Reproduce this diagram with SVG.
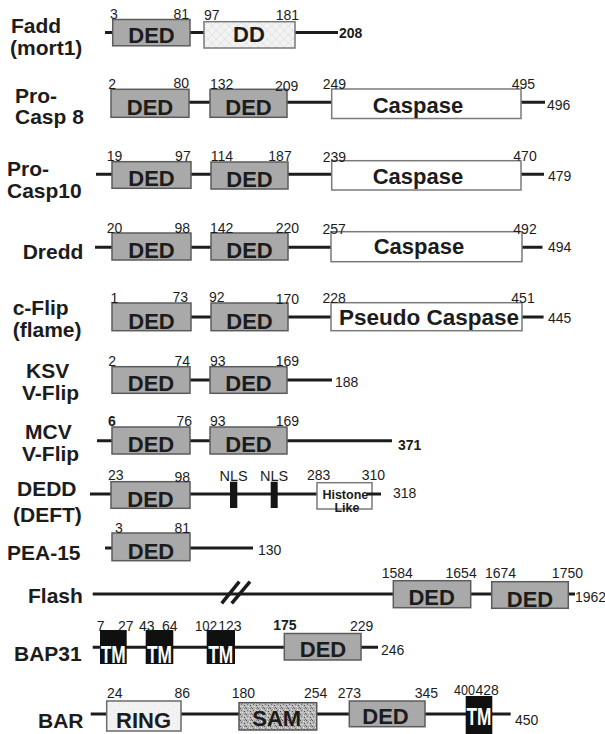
<svg xmlns="http://www.w3.org/2000/svg" width="605" height="734" viewBox="0 0 605 734">
<style>
.bb{stroke:#1c1c1c;stroke-width:3;fill:none}
.sl{stroke:#1c1c1c;stroke-width:3.5;fill:none;stroke-linecap:butt}
.ded{fill:#a9a9a9;stroke:#5c5c5c;stroke-width:1.5}
.cas{fill:#ffffff;stroke:#7a7a7a;stroke-width:1.5}
.dd{fill:url(#hatch);stroke:#7a7a7a;stroke-width:1.5}
.ring{fill:url(#ringp);stroke:#6a6a6a;stroke-width:1.5}
.sam{fill:url(#samp);stroke:#555;stroke-width:1.5}
.tm{fill:#101010}
.nls{fill:#151515}
text{font-family:"Liberation Sans",Arial,Helvetica,sans-serif;fill:#1c1c1c}
.lbl{font-weight:bold;font-size:21px}
.dt{font-weight:bold;font-size:22px;text-anchor:middle}
.tmt{font-weight:bold;font-size:24px;text-anchor:middle;fill:#ffffff}
.num{font-size:14px}
.nb{font-size:14px;font-weight:bold}
.e{text-anchor:end}
.m{text-anchor:middle}
.hl{font-size:12.5px;font-weight:bold;text-anchor:middle}
</style>
<defs>
<pattern id="hatch" width="6" height="6" patternUnits="userSpaceOnUse" patternTransform="rotate(45)">
<rect width="6" height="6" fill="#f3f3f3"/>
<line x1="0" y1="0" x2="0" y2="6" stroke="#d9d9d9" stroke-width="1"/>
<line x1="0" y1="0" x2="6" y2="0" stroke="#d9d9d9" stroke-width="1"/>
</pattern>
<pattern id="ringp" width="9" height="9" patternUnits="userSpaceOnUse">
<rect width="9" height="9" fill="#f2f2f2"/>
<rect x="2" y="3" width="1" height="1" fill="#dcdcdc"/>
<rect x="6" y="7" width="1" height="1" fill="#e2e2e2"/>
<rect x="5" y="1" width="1" height="1" fill="#e6e6e6"/>
</pattern>
<pattern id="samp" width="6" height="6" patternUnits="userSpaceOnUse">
<rect width="6" height="6" fill="#b8b8b8"/>
<rect x="0" y="0" width="1" height="1" fill="#555"/>
<rect x="3" y="1" width="1" height="1" fill="#eee"/>
<rect x="1" y="2" width="1" height="1" fill="#777"/>
<rect x="4" y="3" width="1" height="1" fill="#4a4a4a"/>
<rect x="2" y="4" width="1" height="1" fill="#e0e0e0"/>
<rect x="5" y="5" width="1" height="1" fill="#666"/>
<rect x="0" y="4" width="1" height="1" fill="#ddd"/>
<rect x="4" y="0" width="1" height="1" fill="#888"/>
<rect x="2" y="1" width="1" height="1" fill="#999"/>
<rect x="5" y="2" width="1" height="1" fill="#d6d6d6"/>
</pattern>
</defs>

<g id="connectors">
<line class="bb" x1="105" y1="32.5" x2="338" y2="32.5"/>
<line class="bb" x1="111" y1="102.3" x2="545" y2="102.3"/>
<line class="bb" x1="96" y1="174.3" x2="544" y2="174.3"/>
<line class="bb" x1="95" y1="247.3" x2="542.5" y2="247.3"/>
<line class="bb" x1="112" y1="317" x2="543.6" y2="317"/>
<line class="bb" x1="112" y1="380" x2="332" y2="380"/>
<line class="bb" x1="97" y1="440.7" x2="392" y2="440.7"/>
<line class="bb" x1="90" y1="494" x2="317" y2="494"/>
<line class="bb" x1="105" y1="548" x2="253" y2="548"/>
<line class="bb" x1="92.7" y1="594" x2="575" y2="594"/>
<line class="bb" x1="92.7" y1="647.3" x2="378" y2="647.3"/>
<line class="bb" x1="90.7" y1="714" x2="510.7" y2="714"/>
</g>

<g id="fadd">
<text class="lbl" x="11" y="33">Fadd</text>
<text class="lbl" x="10" y="55">(mort1)</text>
<rect class="ded" x="112.7" y="19.5" width="77.3" height="26.3"/>
<rect class="dd" x="204" y="21.7" width="91" height="26.3"/>
<text class="dt" x="151.5" y="43.3">DED</text>
<text class="dt" x="249" y="42">DD</text>
<text class="num" x="110" y="19">3</text>
<text class="num e" x="189" y="19">81</text>
<text class="num" x="204" y="20">97</text>
<text class="num e" x="299" y="20">181</text>
<text class="nb" x="339" y="37.5">208</text>
</g>

<g id="procasp8">
<text class="lbl" x="15" y="103">Pro-</text>
<text class="lbl" x="15" y="124">Casp 8</text>
<rect class="ded" x="111" y="89.3" width="78" height="28"/>
<rect class="ded" x="210" y="89.3" width="77" height="28"/>
<rect class="cas" x="331.7" y="89" width="189.3" height="29.5"/>
<text class="dt" x="150" y="115">DED</text>
<text class="dt" x="248.5" y="115">DED</text>
<text class="dt" x="418" y="112.5">Caspase</text>
<text class="num" x="108.3" y="88.5">2</text>
<text class="num e" x="189" y="88">80</text>
<text class="num" x="210" y="89">132</text>
<text class="num e" x="298.3" y="90.7">209</text>
<text class="num" x="322.7" y="89.3">249</text>
<text class="num e" x="535" y="89.3">495</text>
<text class="num" x="547" y="110">496</text>
</g>

<g id="procasp10">
<text class="lbl" x="7" y="176">Pro-</text>
<text class="lbl" x="7" y="197.5">Casp10</text>
<rect class="ded" x="112" y="161.7" width="79" height="26.6"/>
<rect class="ded" x="211" y="162" width="77" height="27"/>
<rect class="cas" x="331.7" y="160.7" width="189.3" height="29.3"/>
<text class="dt" x="151.5" y="186">DED</text>
<text class="dt" x="249.5" y="186.5">DED</text>
<text class="dt" x="418" y="183.5">Caspase</text>
<text class="num" x="106.7" y="160.7">19</text>
<text class="num e" x="190.7" y="160.7">97</text>
<text class="num" x="210.7" y="160.7">114</text>
<text class="num e" x="291.7" y="160.7">187</text>
<text class="num" x="322.7" y="161.7">239</text>
<text class="num e" x="536.7" y="161">470</text>
<text class="num" x="548" y="181">479</text>
</g>

<g id="dredd">
<text class="lbl" x="22.7" y="259">Dredd</text>
<rect class="ded" x="112" y="233" width="79" height="27"/>
<rect class="ded" x="211" y="233" width="77" height="27"/>
<rect class="cas" x="331" y="231.7" width="191" height="30"/>
<text class="dt" x="151.5" y="257.5">DED</text>
<text class="dt" x="249.5" y="257.5">DED</text>
<text class="dt" x="419" y="254">Caspase</text>
<text class="num" x="106.7" y="233.3">20</text>
<text class="num e" x="190" y="233">98</text>
<text class="num" x="210" y="233">142</text>
<text class="num e" x="299" y="233">220</text>
<text class="num" x="322.4" y="234">257</text>
<text class="num e" x="536.7" y="233.5">492</text>
<text class="num" x="548" y="251.7">494</text>
</g>

<g id="cflip">
<text class="lbl" x="12.7" y="315">c-Flip</text>
<text class="lbl" x="12.7" y="336.5">(flame)</text>
<rect class="ded" x="112" y="303" width="79" height="27.7"/>
<rect class="ded" x="211" y="303" width="77" height="27.7"/>
<rect class="cas" x="331" y="302.7" width="191" height="28"/>
<text class="dt" x="151.5" y="328.5">DED</text>
<text class="dt" x="249.5" y="328.5">DED</text>
<text class="dt" x="429" y="325" style="font-size:22.5px">Pseudo Caspase</text>
<text class="num" x="110.5" y="303">1</text>
<text class="num e" x="188" y="302">73</text>
<text class="num" x="209" y="302">92</text>
<text class="num e" x="299" y="304">170</text>
<text class="num" x="322.4" y="302.5">228</text>
<text class="num e" x="534.7" y="302.5">451</text>
<text class="num" x="548" y="323.3">445</text>
</g>

<g id="ksv-vflip">
<text class="lbl" x="26" y="378">KSV</text>
<text class="lbl" x="22" y="399.5">V-Flip</text>
<rect class="ded" x="112" y="366.7" width="78" height="26.6"/>
<rect class="ded" x="210" y="366.7" width="77" height="26.6"/>
<text class="dt" x="151" y="391">DED</text>
<text class="dt" x="248.5" y="391">DED</text>
<text class="num" x="108.3" y="366">2</text>
<text class="num e" x="190" y="366">74</text>
<text class="num" x="210" y="366">93</text>
<text class="num e" x="299" y="366">169</text>
<text class="num" x="335" y="386.7">188</text>
</g>

<g id="mcv-vflip">
<text class="lbl" x="25" y="439">MCV</text>
<text class="lbl" x="22" y="460.5">V-Flip</text>
<rect class="ded" x="112" y="427" width="78" height="27"/>
<rect class="ded" x="210" y="427" width="77" height="27"/>
<text class="dt" x="151" y="452">DED</text>
<text class="dt" x="248.5" y="452">DED</text>
<text class="nb" x="108" y="426">6</text>
<text class="num e" x="192" y="426">76</text>
<text class="num" x="210" y="426">93</text>
<text class="num e" x="299" y="426">169</text>
<text class="nb" x="398" y="449.5">371</text>
</g>

<g id="dedd">
<text class="lbl" x="17" y="496">DEDD</text>
<text class="lbl" x="13" y="522">(DEFT)</text>
<rect class="ded" x="111" y="481.7" width="79" height="26.6"/>
<rect class="nls" x="230" y="481.7" width="7.3" height="26.3"/>
<rect class="nls" x="270.7" y="481.7" width="7" height="26.3"/>
<rect class="cas" x="317" y="482.7" width="55" height="26.3"/>
<line class="bb" x1="367" y1="494" x2="381" y2="494"/>
<text class="dt" x="150.5" y="506.5">DED</text>
<text class="hl" x="345.3" y="498.5">Histone</text>
<text class="hl" x="347" y="512">Like</text>
<text class="num" x="108" y="480">23</text>
<text class="num e" x="190" y="482">98</text>
<text class="num m" x="233.7" y="480.7" style="font-size:14.5px">NLS</text>
<text class="num m" x="274.2" y="480.7" style="font-size:14.5px">NLS</text>
<text class="num" x="307" y="480">283</text>
<text class="num e" x="385" y="480">310</text>
<text class="num" x="393" y="498">318</text>
</g>

<g id="pea15">
<text class="lbl" x="7" y="560">PEA-15</text>
<rect class="ded" x="112" y="533" width="78" height="27.7"/>
<text class="dt" x="151" y="558.5">DED</text>
<text class="num" x="115" y="532.7">3</text>
<text class="num e" x="190" y="532.7">81</text>
<text class="num" x="258" y="555">130</text>
</g>

<g id="flash">
<text class="lbl" x="28" y="603">Flash</text>
<line class="sl" x1="221.7" y1="603.3" x2="239.3" y2="581.7"/>
<line class="sl" x1="231.7" y1="603.3" x2="250" y2="581.7"/>
<rect class="ded" x="393.3" y="580.7" width="77.4" height="27"/>
<rect class="ded" x="491.7" y="581.7" width="76.6" height="26.6"/>
<text class="dt" x="431.7" y="605">DED</text>
<text class="dt" x="530" y="606.5">DED</text>
<text class="num" x="381.7" y="578.3">1584</text>
<text class="num e" x="476.7" y="578.3">1654</text>
<text class="num" x="485" y="578.3">1674</text>
<text class="num e" x="583" y="578.3">1750</text>
<text class="num" x="575" y="601.5">1962</text>
</g>

<g id="bap31">
<text class="lbl" x="14" y="660.7">BAP31</text>
<rect class="tm" x="100" y="630" width="26.7" height="34"/>
<rect class="tm" x="145.7" y="630" width="27.6" height="34"/>
<rect class="tm" x="206.7" y="630" width="28.3" height="34"/>
<rect class="ded" x="284.3" y="633.5" width="76.7" height="26.5"/>
<text class="tmt" x="113.3" y="663" textLength="25" lengthAdjust="spacingAndGlyphs">TM</text>
<text class="tmt" x="159.5" y="663" textLength="25" lengthAdjust="spacingAndGlyphs">TM</text>
<text class="tmt" x="220.8" y="663" textLength="25" lengthAdjust="spacingAndGlyphs">TM</text>
<text class="dt" x="323" y="656.7">DED</text>
<text class="num" x="96.7" y="630.5">7</text>
<text class="num" x="118" y="630.5">27</text>
<text class="num" x="139" y="630.5">43</text>
<text class="num" x="162" y="630.5">64</text>
<text class="num" x="195" y="630.5" textLength="22" lengthAdjust="spacingAndGlyphs">102</text>
<text class="num" x="218.3" y="630.5">123</text>
<text class="nb" x="273.3" y="629.5">175</text>
<text class="num" x="350" y="631">229</text>
<text class="num" x="381" y="655">246</text>
</g>

<g id="bar">
<text class="lbl" x="38" y="728.3">BAR</text>
<rect class="ring" x="106.7" y="701" width="74.3" height="30"/>
<rect class="sam" x="239" y="702.7" width="77.7" height="27.3"/>
<rect class="ded" x="349.3" y="701" width="75.7" height="25.7"/>
<rect class="tm" x="465.7" y="696" width="26.6" height="40"/>
<text class="dt" x="143.5" y="728.3">RING</text>
<text class="dt" x="276.7" y="726">SAM</text>
<text class="dt" x="385.5" y="724">DED</text>
<text class="tmt" x="479" y="725" textLength="25" lengthAdjust="spacingAndGlyphs">TM</text>
<text class="num" x="107" y="698.3">24</text>
<text class="num e" x="190" y="698">86</text>
<text class="num" x="231.7" y="698">180</text>
<text class="num" x="304" y="698">254</text>
<text class="num" x="337.7" y="698">273</text>
<text class="num e" x="438" y="698">345</text>
<text class="num" x="454" y="695" textLength="21" lengthAdjust="spacingAndGlyphs">400</text>
<text class="num" x="475.5" y="695">428</text>
<text class="num" x="515" y="725">450</text>
</g>
</svg>
